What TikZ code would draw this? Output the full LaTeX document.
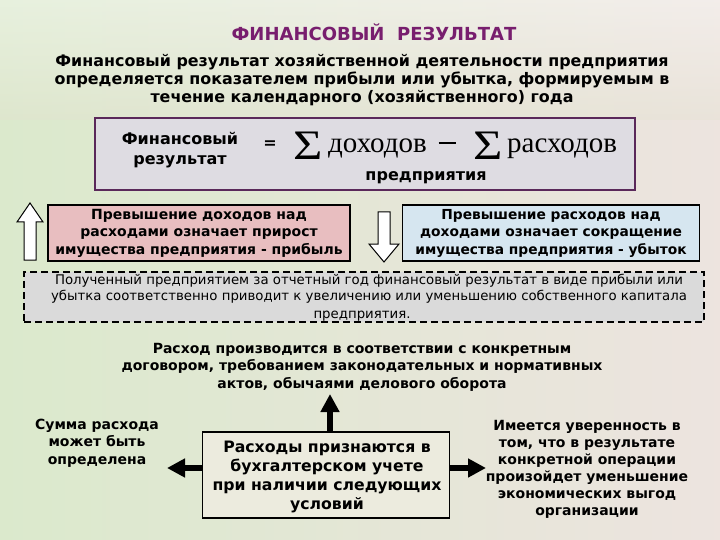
\documentclass[tikz,border=0pt]{standalone}
\usepackage{fontspec}
\setmainfont{DejaVu Sans}
\newfontfamily\serifrm{Liberation Serif}
\usetikzlibrary{arrows.meta}
\definecolor{bgc}{RGB}{228,226,208}
\definecolor{titlec}{RGB}{120,30,110}
\definecolor{framec}{RGB}{90,40,90}
\definecolor{marble}{RGB}{222,220,226}
\definecolor{pinkc}{RGB}{232,190,192}
\definecolor{bluec}{RGB}{214,230,240}
\definecolor{dashfill}{RGB}{218,218,218}
\tikzset{
  txt/.style={font=\bfseries\fontsize{16}{19}\selectfont, align=center, inner sep=0pt},
  smalltxt/.style={font=\bfseries\fontsize{14}{17.5}\selectfont, align=center, inner sep=0pt},
  colbox/.style={draw=black, line width=1.5pt, inner sep=0pt},
  hollow/.style={draw=black, line width=1pt, fill=white},
  bigarrow/.style={line width=6pt, -{Triangle[width=18pt,length=18pt]}},
  bigsum/.style={inner sep=0pt, font=\serifrm\fontsize{42}{44}\selectfont},
  serifword/.style={inner sep=0pt, font=\serifrm\fontsize{29}{32}\selectfont, anchor=base west},
}
\begin{document}
\begin{tikzpicture}[x=1pt,y=-1pt]
\useasboundingbox (0,0) rectangle (720,540);
\fill[bgc] (0,0) rectangle (720,540);
\shade[left color=bgc!80!green!60!white, right color=bgc!85!magenta!40!white, opacity=0.5] (0,0) rectangle (720,540);
\shade[top color=white, bottom color=bgc, opacity=0.35] (0,0) rectangle (720,120);

% title
\node[font=\bfseries\fontsize{18}{20}\selectfont, text=titlec, inner sep=0pt] (title) at (374,32) {ФИНАНСОВЫЙ\ \ РЕЗУЛЬТАТ};
\node[txt, font=\bfseries\fontsize{15.9}{18}\selectfont] (intro) at (362,80) {Финансовый результат хозяйственной деятельности предприятия\\определяется показателем прибыли или убытка, формируемым в\\течение календарного (хозяйственного) года};

% formula box
\node[draw=framec, line width=2.5pt, fill=marble, minimum width=540pt, minimum height=72pt, inner sep=0pt] (fbox) at (365,154) {};
\node[txt, font=\bfseries\fontsize{16}{20}\selectfont] (fin) at (180,150) {Финансовый\\результат};
\node[txt] (eq) at (270,145) {=};
\node[bigsum] (sum1) at (308,146) {\scalebox{1.2}[1]{Σ}};
\node[serifword] (doh) at (328,153) {доходов};
\node[inner sep=0pt] (minus) at (447,143) {\rule{17pt}{2.6pt}};
\node[bigsum] (sum2) at (488,146) {\scalebox{1.2}[1]{Σ}};
\node[serifword] (rash) at (507,153) {расходов};
\node[txt] (pred) at (426,178) {предприятия};

% profit/loss boxes
\draw[hollow] (24,260) -- (24,222) -- (17,222) -- (30,203) -- (43,222) -- (36,222) -- (36,260) -- cycle;
\node[colbox, fill=pinkc, minimum width=302pt, minimum height=56pt] (profit) at (199,233) {};
\node[smalltxt] at (profit) {Превышение доходов над\\расходами означает прирост\\имущества предприятия - прибыль};
\draw[hollow] (378,212) -- (390,212) -- (390,244) -- (399,244) -- (384,262) -- (369,244) -- (378,244) -- cycle;
\node[colbox, fill=bluec, minimum width=297pt, minimum height=56pt] (loss) at (551,233) {};
\node[smalltxt, font=\bfseries\fontsize{13.8}{17.5}\selectfont] at (loss) {Превышение расходов над\\доходами означает сокращение\\имущества предприятия - убыток};

% dashed box
\node[draw=black, line width=1.3pt, dash pattern=on 7pt off 4pt, fill=dashfill, minimum width=680pt, minimum height=50pt, inner sep=0pt] (dbox) at (364,297) {};
\node[font=\fontsize{13.3}{15.5}\selectfont, align=center, inner sep=0pt] (dtext) at (369,288.5) {Полученный предприятием за отчетный год финансовый результат в виде прибыли или\\убытка соответственно приводит к увеличению или уменьшению собственного капитала};
\node[font=\fontsize{13.3}{16}\selectfont, inner sep=0pt] (dtext2) at (362,316) {предприятия.};

% conditions
\node[smalltxt] (top) at (362,367) {Расход производится в соответствии с конкретным\\договором, требованием законодательных и нормативных\\актов, обычаями делового оборота};
\node[colbox, fill=bgc!70!white, minimum width=247pt, minimum height=86pt] (center) at (326,475) {};
\node[txt, font=\bfseries\fontsize{15.7}{19}\selectfont] (ctext) at (327,477) {Расходы признаются в\\бухгалтерском учете\\при наличии следующих\\условий};
\node[smalltxt] (left) at (97,443) {Сумма расхода\\может быть\\определена};
\node[smalltxt, font=\bfseries\fontsize{14}{17}\selectfont] (right) at (587,469) {Имеется уверенность в\\том, что в результате\\конкретной операции\\произойдет уменьшение\\экономических выгод\\организации};

\coordinate (upend) at (330,394);
\coordinate (leftend) at (167,468);
\coordinate (rightend) at (486,468);
\draw[bigarrow] (center.north -| upend) -- (upend);
\draw[bigarrow] (center.west |- leftend) -- (leftend);
\draw[bigarrow] (center.east |- rightend) -- (rightend);
\end{tikzpicture}
\end{document}
